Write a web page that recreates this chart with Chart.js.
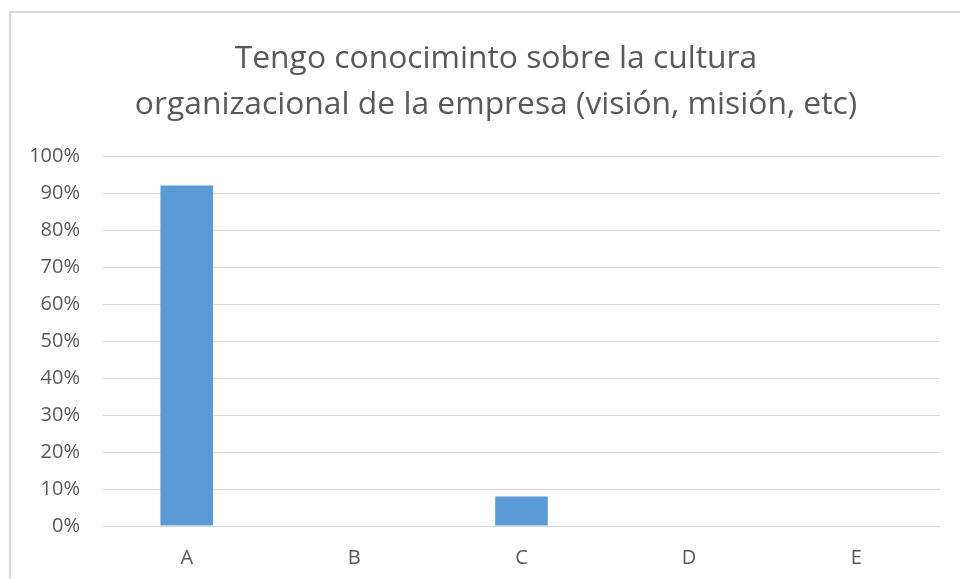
<!DOCTYPE html>
<html>
<head>
<meta charset="utf-8">
<script src="https://cdn.jsdelivr.net/npm/chart.js@4.4.1/dist/chart.umd.min.js"></script>
<style>
  html, body { margin: 0; padding: 0; background: #fff; overflow: hidden; }
  #frame {
    position: absolute; left: 9px; top: 11px; width: 1000px; height: 700px;
    border: 2px solid #d9d9d9; box-sizing: border-box;
  }
  #wrap { position: absolute; left: 0; top: 0; width: 960px; height: 579px; }
</style>
</head>
<body>
<div id="frame"></div>
<div id="wrap"><canvas id="chart"></canvas></div>
<script>
// Chart data
const titleLines = ['Tengo conociminto sobre la cultura', 'organizacional de la empresa (visión, misión, etc)'];
const categories = ['A', 'B', 'C', 'D', 'E'];
const values = [92, 0, 8, 0, 0];
const yTicks = [0, 10, 20, 30, 40, 50, 60, 70, 80, 90, 100];

const textColor = '#595959';
const gridColor = '#d9d9d9';
const fontFamily = '"Open Sans", sans-serif';

// Excel centres the title a bit left of the plot area, so shift the title box
const titleShift = {
    id: 'titleShift',
    afterLayout(chart) {
        const t = chart.titleBlock;
        if (t) {
            t.left = 52;
            t.right = 940;
            t.width = 888;
        }
    }
};

const ctx = document.getElementById('chart').getContext('2d');
const chart = new Chart(ctx, {
    type: 'bar',
    data: {
        labels: categories,
        datasets: [{
            data: values,
            backgroundColor: '#5b9bd5',
            borderWidth: 0,
            categoryPercentage: 1,
            barPercentage: 0.314
        }]
    },
    options: {
        responsive: true,
        maintainAspectRatio: false,
        animation: false,
        layout: { padding: { left: 0, right: 20, top: 0, bottom: 0 } },
        plugins: {
            legend: { display: false },
            tooltip: { enabled: false },
            title: {
                display: true,
                text: titleLines,
                color: textColor,
                font: { family: fontFamily, size: 31.8, weight: 'normal', lineHeight: 46 / 31.8 },
                padding: { top: 36, bottom: 28 }
            }
        },
        scales: {
            x: {
                grid: { display: false },
                border: { display: false },
                ticks: {
                    color: textColor,
                    font: { family: fontFamily, size: 20 },
                    padding: 12
                },
                afterFit: scale => { scale.height = 53; }
            },
            y: {
                min: yTicks[0],
                max: yTicks[yTicks.length - 1],
                border: { display: false },
                grid: { color: gridColor, lineWidth: 1, drawTicks: false },
                ticks: {
                    stepSize: 10,
                    color: textColor,
                    font: { family: fontFamily, size: 20 },
                    padding: 23,
                    callback: v => v + '%'
                },
                afterFit: scale => { scale.width = 103; }
            }
        }
    },
    plugins: [titleShift]
});
</script>
</body>
</html>
